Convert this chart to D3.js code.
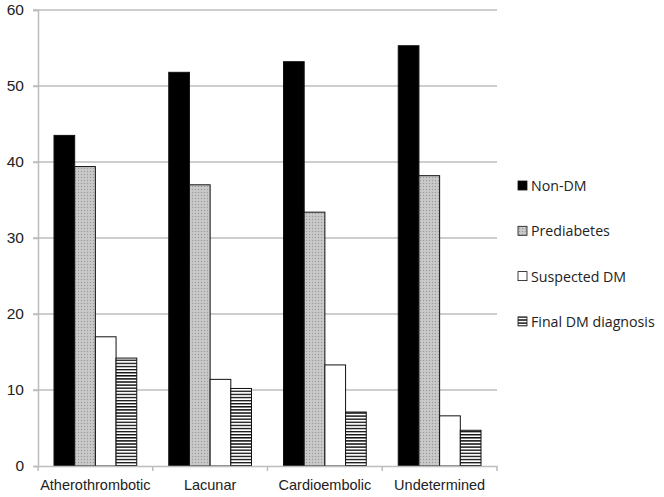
<!DOCTYPE html>
<html><head><meta charset="utf-8">
<script src="https://cdn.jsdelivr.net/npm/d3@7"></script>
<style>body{margin:0;background:#fff}svg{display:block;font-family:"Open Sans",Lato,sans-serif}</style>
</head><body><svg id="c" width="664" height="497"></svg>
<script>
(function(){
const categories = ["Atherothrombotic","Lacunar","Cardioembolic","Undetermined"];
const seriesNames = ["Non-DM","Prediabetes","Suspected DM","Final DM diagnosis"];
const nonDM = [43.5, 51.8, 53.2, 55.3];
const prediabetes = [39.4, 37.0, 33.4, 38.2];
const suspectedDM = [17.0, 11.4, 13.3, 6.6];
const finalDM = [14.2, 10.2, 7.1, 4.7];
const yTicks = [0,10,20,30,40,50,60];
const series = [nonDM, prediabetes, suspectedDM, finalDM];

const svg = d3.select("#c");
const defs = svg.append("defs");
const pg = defs.append("pattern").attr("id","grey").attr("patternUnits","userSpaceOnUse").attr("width",3).attr("height",3);
pg.append("rect").attr("width",3).attr("height",3).attr("fill","#c4c4c4");
pg.append("rect").attr("x",0).attr("y",0).attr("width",1).attr("height",1).attr("fill","#9a9a9a");
pg.append("rect").attr("x",1.5).attr("y",1.5).attr("width",1).attr("height",1).attr("fill","#dedede");
const ps = defs.append("pattern").attr("id","stripe").attr("patternUnits","userSpaceOnUse").attr("width",4).attr("height",3.1);
ps.append("rect").attr("width",4).attr("height",3.1).attr("fill","#fff");
ps.append("rect").attr("y",0).attr("width",4).attr("height",1.4).attr("fill","#111");

const fills = ["#000","url(#grey)","#fff","url(#stripe)"];
const mLeft = 38, mRight = 497, mTop = 10, mBottom = 466;
const x = d3.scaleBand().domain(categories).range([mLeft,mRight]).paddingInner(0).paddingOuter(0);
const xs = d3.scaleBand().domain(d3.range(4)).range([16, x.bandwidth()-16]);
const y = d3.scaleLinear().domain([0,60]).range([mBottom,mTop]);

svg.append("g").selectAll("line").data(yTicks.filter(d=>d>0)).join("line")
  .attr("x1",33).attr("x2",mRight).attr("y1",d=>y(d)).attr("y2",d=>y(d))
  .attr("stroke","#bdbdbd").attr("stroke-width",1.5);
const ya = svg.append("g").attr("transform",`translate(${mLeft},0)`)
  .call(d3.axisLeft(y).tickValues(yTicks).tickSize(5).tickPadding(9));
ya.select(".domain").attr("stroke","#bdbdbd").attr("stroke-width",1.5);
ya.selectAll(".tick line").attr("stroke","#bdbdbd").attr("stroke-width",1.5);
ya.selectAll("text").attr("font-size",15.5).attr("fill","#222");

const g = svg.append("g");
categories.forEach((c,ci)=>{
  series.forEach((s,si)=>{
    g.append("rect").attr("x",x(c)+xs(si)).attr("width",xs.bandwidth())
      .attr("y",y(s[ci])).attr("height",mBottom-y(s[ci]))
      .attr("fill",fills[si]).attr("stroke","#111").attr("stroke-width",1);
  });
});

const xa = svg.append("g").attr("transform",`translate(0,${mBottom})`)
  .call(d3.axisBottom(x).tickSize(0).tickPadding(14));
xa.select(".domain").attr("stroke","#bdbdbd").attr("stroke-width",1.5);
xa.selectAll("text").attr("font-size",14.5).attr("fill","#222");
svg.append("g").selectAll("line").data(d3.range(5)).join("line")
  .attr("x1",i=>mLeft+i*x.step()).attr("x2",i=>mLeft+i*x.step())
  .attr("y1",mBottom).attr("y2",mBottom+5).attr("stroke","#bdbdbd").attr("stroke-width",1.5);

const lg = svg.append("g");
seriesNames.forEach((n,i)=>{
  const yy = 186 + i*45.3;
  lg.append("rect").attr("x",518).attr("y",yy-5).attr("width",9).attr("height",9)
    .attr("fill",fills[i]).attr("stroke","#111").attr("stroke-width",0.8);
  lg.append("text").attr("x",531).attr("y",yy+5).attr("font-size",14.2).attr("fill","#222").text(n);
});
})();
</script></body></html>
